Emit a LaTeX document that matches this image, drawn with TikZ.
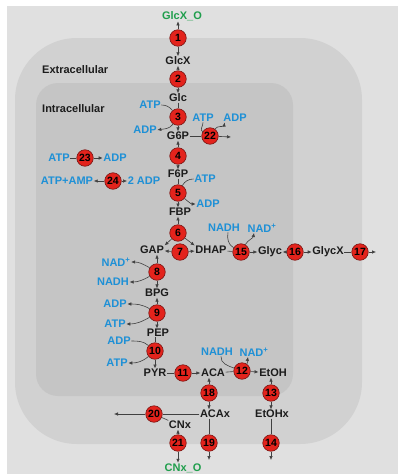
\documentclass[tikz,border=0pt]{standalone}
\usepackage{fontspec}
\setmainfont{Liberation Sans}
\usetikzlibrary{arrows.meta}
\definecolor{outergray}{HTML}{E0E0E0}
\definecolor{extgray}{HTML}{D1D1D1}
\definecolor{intgray}{HTML}{C5C5C5}
\definecolor{rxnred}{HTML}{E3231C}
\definecolor{rxnedge}{HTML}{7A1412}
\definecolor{cofblue}{HTML}{1E90D6}
\definecolor{extgreen}{HTML}{1F9E4C}
\definecolor{metblack}{HTML}{1C1C1C}
\definecolor{lncol}{HTML}{404040}
\begin{document}
\begin{tikzpicture}[x=1pt,y=-1pt,
  rxn/.style={circle,draw=rxnedge,fill=rxnred,line width=0.6pt,minimum size=16.5pt,inner sep=0pt,text=black,font=\fontsize{10.5}{10.5}\selectfont\bfseries},
  met/.style={inner sep=0.5pt,text=metblack,font=\fontsize{11}{11}\selectfont\bfseries},
  cof/.style={met,text=cofblue},
  ext/.style={met,text=extgreen},
  rlab/.style={anchor=west,inner sep=0pt,text=metblack,font=\fontsize{11}{11}\selectfont\bfseries},
  ln/.style={draw=lncol,line width=0.6pt},
  >={Latex[length=4pt,width=3.5pt]}]
\useasboundingbox (0,0) rectangle (398,474);
\fill[outergray] (7,6) rectangle (398,474);
\fill[extgray,rounded corners=62] (15,38) rectangle (362,444);
\fill[intgray,rounded corners=22] (36,83) rectangle (293,396);
\node[rlab] (extlab) at (42,70) {Extracellular};
\node[rlab] (intlab) at (42,109) {Intracellular};

\node[rxn] (r1) at (178,38) {1};
\node[rxn] (r2) at (178,79) {2};
\node[rxn] (r3) at (178,117) {3};
\node[rxn] (r4) at (178,156) {4};
\node[rxn] (r5) at (178,193) {5};
\node[rxn] (r6) at (178,233) {6};
\node[rxn] (r7) at (180,252) {7};
\node[rxn] (r8) at (157,272) {8};
\node[rxn] (r9) at (157,313) {9};
\node[rxn] (r10) at (155,351) {10};
\node[rxn] (r11) at (183,373) {11};
\node[rxn] (r12) at (242,371) {12};
\node[rxn] (r13) at (271,393) {13};
\node[rxn] (r14) at (271,443) {14};
\node[rxn] (r15) at (241,252) {15};
\node[rxn] (r16) at (295,252) {16};
\node[rxn] (r17) at (360,252) {17};
\node[rxn] (r18) at (209,393) {18};
\node[rxn] (r19) at (209,443) {19};
\node[rxn] (r20) at (154,414) {20};
\node[rxn] (r21) at (178,443) {21};
\node[rxn] (r22) at (210,136) {22};
\node[rxn] (r23) at (85,158) {23};
\node[rxn] (r24) at (113,181) {24};

\node[ext] (GlcXO) at (182,16) {GlcX\_O};
\node[met] (GlcX) at (178,61) {GlcX};
\node[met] (Glc) at (178,98) {Glc};
\node[met] (G6P) at (178,136) {G6P};
\node[met] (F6P) at (178,174) {F6P};
\node[met] (FBP) at (180,212) {FBP};
\node[met] (GAP) at (152,250) {GAP};
\node[met] (DHAP) at (211,250) {DHAP};
\node[met] (Glyc) at (270,252) {Glyc};
\node[met] (GlycX) at (328,252) {GlycX};
\node[met] (BPG) at (157,293) {BPG};
\node[met] (PEP) at (158,333) {PEP};
\node[met] (PYR) at (155,373) {PYR};
\node[met] (ACA) at (213,373) {ACA};
\node[met] (EtOH) at (273,373) {EtOH};
\node[met] (ACAx) at (215,414) {ACAx};
\node[met] (EtOHx) at (272,414) {EtOHx};
\node[met] (CNx) at (180,425) {CNx};
\node[ext] (CNxO) at (183,468) {CNx\_O};

\node[cof] (atp3) at (150,105) {ATP};
\node[cof] (adp3) at (145,130) {ADP};
\node[cof] (atp22) at (203,118) {ATP};
\node[cof] (adp22) at (235,118) {ADP};
\node[cof] (atp23) at (59,158) {ATP};
\node[cof] (adp23) at (115,158) {ADP};
\node[cof] (atp24) at (67,181) {ATP+AMP};
\node[cof] (adp24) at (144,181) {2 ADP};
\node[cof] (atp5) at (205,179) {ATP};
\node[cof] (adp5) at (208,204) {ADP};
\node[cof] (nadh15) at (224,228) {NADH};
\node[cof] (nad15) at (262,228) {NAD\textsuperscript{+}};
\node[cof] (nad8) at (116,262) {NAD\textsuperscript{+}};
\node[cof] (nadh8) at (113,282) {NADH};
\node[cof] (adp9) at (115,304) {ADP};
\node[cof] (atp9) at (115,324) {ATP};
\node[cof] (adp10) at (119,341) {ADP};
\node[cof] (atp10) at (117,363) {ATP};
\node[cof] (nadh12) at (217,352) {NADH};
\node[cof] (nad12) at (254,352) {NAD\textsuperscript{+}};

\coordinate (e22) at (231,137);
\coordinate (e17) at (376,252);
\coordinate (e20) at (114,414);
\coordinate (e14) at (271,460);
\coordinate (e19) at (209,460);

\draw[ln,->] (r1) -- (r1 |- GlcXO.south);
\draw[ln,->] (r1) -- (GlcX);
\draw[ln,->] (r2) -- (GlcX);
\draw[ln,->] (r2) -- (Glc);
\draw[ln] (Glc) -- (r3);
\draw[ln,->] (r3) -- (G6P);
\draw[ln] (atp3.east) to[out=0,in=130] (r3);
\draw[ln,->] (r3) to[out=-125,in=10] (adp3.east);
\draw[ln] (G6P) -- (r22);
\draw[ln,->] (r22) -- (e22);
\draw[ln] (atp22.south) to[out=-90,in=150] (r22);
\draw[ln,->] (r22) to[out=55,in=-100] ([xshift=2pt]adp22.south west);
\draw[ln,->] (r4) -- (G6P);
\draw[ln,->] (r4) -- (F6P);
\draw[ln] (F6P) -- (r5);
\draw[ln,->] (r5) -- (r5 |- FBP.north);
\draw[ln] (atp5.west) to[out=180,in=60] (r5);
\draw[ln,->] (r5) to[out=-40,in=180] (adp5.west);
\draw[ln,->] (r6) -- (r6 |- FBP.south);
\draw[ln,->] (r6) -- (GAP.north east);
\draw[ln,->] (r6) -- (DHAP.north west);
\draw[ln,->] (r7) -- (GAP);
\draw[ln,->] (r7) -- (DHAP);
\draw[ln] (DHAP) -- (r15);
\draw[ln,->] (r15) -- (Glyc);
\draw[ln] ([xshift=4pt]nadh15.south) to[out=-100,in=150] (r15);
\draw[ln,->] (r15) to[out=60,in=-100] ([xshift=-8pt]nad15.south);
\draw[ln,->] (r16) -- (Glyc);
\draw[ln,->] (r16) -- (GlycX);
\draw[ln] (GlycX) -- (r17);
\draw[ln,->] (r17) -- (e17);
\draw[ln,->] (r8) -- (r8 |- GAP.south);
\draw[ln,->] (r8) -- (BPG);
\draw[ln,->] (r8) to[out=150,in=0] (nad8.east);
\draw[ln,->] (r8) to[out=-150,in=0] (nadh8.east);
\draw[ln,->] (r9) -- (BPG);
\draw[ln,->] (r9) -- (r9 |- PEP.north);
\draw[ln,->] (r9) to[out=150,in=0] (adp9.east);
\draw[ln,->] (r9) to[out=-150,in=0] (atp9.east);
\draw[ln] (r10 |- PEP.south) -- (r10);
\draw[ln,->] (r10) -- (PYR);
\draw[ln] (adp10.east) to[out=0,in=140] (r10);
\draw[ln,->] (r10) to[out=-140,in=0] (atp10.east);
\draw[ln] (PYR) -- (r11);
\draw[ln,->] (r11) -- (ACA);
\draw[ln] (ACA) -- (r12);
\draw[ln,->] (r12) -- (EtOH);
\draw[ln] ([xshift=4pt]nadh12.south) to[out=-95,in=160] (r12);
\draw[ln,->] (r12) to[out=55,in=-100] ([xshift=-6pt]nad12.south);
\draw[ln,->] (r13) -- (r13 |- EtOH.south);
\draw[ln,->] (r13) -- (r13 |- EtOHx.north);
\draw[ln,->] (r18) -- (r18 |- ACA.south);
\draw[ln,->] (r18) -- (r18 |- ACAx.north);
\draw[ln] (r14 |- EtOHx.south) -- (r14);
\draw[ln,->] (r14) -- (e14);
\draw[ln] (r19 |- ACAx.south) -- (r19);
\draw[ln,->] (r19) -- (e19);
\draw[ln] (ACAx.west) -- (r20);
\draw[ln,->] (r20) -- (e20);
\draw[ln] (CNx.north west) -- (r20);
\draw[ln,->] (r21) -- (r21 |- CNx.south);
\draw[ln,->] (r21) -- (r21 |- CNxO.north);
\draw[ln] (atp23) -- (r23);
\draw[ln,->] (r23) -- (adp23);
\draw[ln,->] (r24) -- (atp24);
\draw[ln,->] (r24) -- (adp24);
\end{tikzpicture}
\end{document}
